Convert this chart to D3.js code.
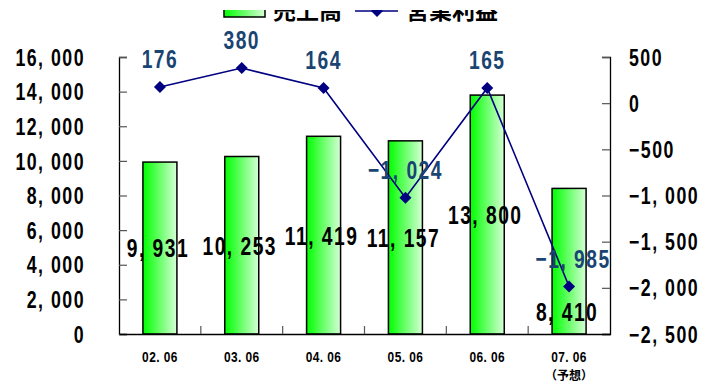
<!DOCTYPE html>
<html><head><meta charset="utf-8">
<script src="https://cdn.jsdelivr.net/npm/d3@7"></script>
<style>
html,body{margin:0;padding:0;background:#fff;}
svg{display:block;}
</style></head>
<body>
<svg id="chart" width="704" height="383"></svg>
<script>
const categories = ["02. 06","03. 06","04. 06","05. 06","06. 06","07. 06"];
const categoryNotes = ["","","","","","（予想）"];
const sales = [9931,10253,11419,11157,13800,8410];
const profit = [176,380,164,-1024,165,-1985];
const leftTicks = [0,2000,4000,6000,8000,10000,12000,14000,16000];
const rightTicks = [-2500,-2000,-1500,-1000,-500,0,500];
const legendLabels = ["売上高","営業利益"];

const NUM_FONT = "'Liberation Sans','Arimo',sans-serif";
const CJK_FONT = "'Noto Sans CJK JP',sans-serif";
const fmt = v => d3.format(",")(v).replace(",", ", ");

const svg = d3.select("#chart");
const m = {left:119, right:610, top:57, bottom:334};

const xb = d3.scaleBand().domain(categories).range([m.left, m.right]);
const yL = d3.scaleLinear().domain([0,16000]).range([m.bottom, m.top]);
const yR = d3.scaleLinear().domain([-2500,500]).range([m.bottom, m.top]);

function ctext(sel, data, fx, fy, opts){
  return sel.append("g").selectAll("text").data(data).join("text")
    .attr("transform",(d,i)=>`translate(${fx(d,i)},${fy(d,i)}) scale(${opts.sx},1)`)
    .attr("dy","0.36em")
    .attr("text-anchor",opts.anchor)
    .style("font-family",opts.font || NUM_FONT).style("font-weight","bold")
    .style("letter-spacing",(opts.ls||0)+"px")
    .style("font-size",opts.size+"px").attr("fill",opts.fill || "#000")
    .text(opts.text);
}

const defs = svg.append("defs");
const g = defs.append("linearGradient").attr("id","barGrad").attr("x1","0").attr("x2","1").attr("y1","0").attr("y2","0");
g.append("stop").attr("offset","0").attr("stop-color","#00ff00");
g.append("stop").attr("offset","1").attr("stop-color","#d6ffd6");
defs.append("clipPath").attr("id","legClip").append("rect").attr("x",0).attr("y",10).attr("width",704).attr("height",30);

// bars
svg.append("g").selectAll("rect").data(sales).join("rect")
  .attr("x",(d,i)=>xb(categories[i]) + xb.bandwidth()/2 - 17)
  .attr("width",34)
  .attr("y",d=>yL(d))
  .attr("height",d=>yL(0)-yL(d))
  .attr("fill","url(#barGrad)")
  .attr("stroke","#000").attr("stroke-width",1.5);

const axCol = "#000";
const la = svg.append("g").attr("transform",`translate(${m.left},0)`)
  .call(d3.axisLeft(yL).tickValues(leftTicks).tickSize(-8).tickFormat(""));
la.select(".domain").attr("stroke",axCol).attr("stroke-width",1.3);
la.selectAll(".tick line").attr("stroke","#555").attr("stroke-width",1.2);
ctext(svg, leftTicks, ()=>85, d=>yL(d), {sx:0.74, anchor:"end", size:24, ls:2, text:d=>fmt(d)});

const ra = svg.append("g").attr("transform",`translate(${m.right},0)`)
  .call(d3.axisRight(yR).tickValues(rightTicks).tickSize(-8).tickFormat(""));
ra.select(".domain").attr("stroke",axCol).attr("stroke-width",1.3);
ra.selectAll(".tick line").attr("stroke","#555").attr("stroke-width",1.2);
ctext(svg, rightTicks, ()=>629, d=>yR(d), {sx:0.74, anchor:"start", size:24, ls:2, text:d=>fmt(d)});

const ba = svg.append("g").attr("transform",`translate(0,${m.bottom})`)
  .call(d3.axisBottom(xb).tickSize(0).tickFormat(""));
ba.select(".domain").attr("stroke",axCol).attr("stroke-width",1.5);
ba.selectAll(".tick").remove();
svg.append("g").selectAll("line").data(categories.slice(1)).join("line")
  .attr("x1",d=>xb(d)).attr("x2",d=>xb(d))
  .attr("y1",m.bottom).attr("y2",m.bottom-8)
  .attr("stroke","#555").attr("stroke-width",1.2);
ctext(svg, categories, d=>xb(d)+xb.bandwidth()/2, ()=>357, {sx:0.85, anchor:"middle", size:14, ls:0.5, text:d=>d});
ctext(svg, categoryNotes, (d,i)=>xb(categories[i])+xb.bandwidth()/2, ()=>376, {sx:1, anchor:"middle", size:12, font:CJK_FONT, text:d=>d});

// line
const cx = i => xb(categories[i]) + xb.bandwidth()/2;
svg.append("path").datum(profit)
  .attr("d", d3.line().x((d,i)=>cx(i)).y(d=>yR(d)))
  .attr("fill","none").attr("stroke","#000080").attr("stroke-width",1.6);
svg.append("g").selectAll("path").data(profit).join("path")
  .attr("transform",(d,i)=>`translate(${cx(i)},${yR(d)})`)
  .attr("d","M0,-6L6,0L0,6L-6,0Z")
  .attr("fill","#000080");

// bar labels
ctext(svg, sales, (d,i)=>cx(i)-2,
  (d,i)=> i===sales.length-1 ? yL(0)-22 : (yL(d)+yL(0))/2,
  {sx:0.74, anchor:"middle", size:26, ls:2, text:d=>fmt(d)});

// line labels
ctext(svg, profit, (d,i)=>cx(i) + (i===profit.length-1 ? 4 : 0), d=>yR(d)-28,
  {sx:0.74, anchor:"middle", size:26, ls:2, fill:"#1A4471", text:d=>fmt(d)});

// legend (top clipped as in the reference)
const leg = svg.append("g").attr("clip-path","url(#legClip)");
leg.append("rect").attr("x",224).attr("y",5).attr("width",41).attr("height",12)
  .attr("fill","url(#barGrad)").attr("stroke","#000").attr("stroke-width",1.5);
leg.append("text").attr("x",273).attr("y",19)
  .style("font-family",CJK_FONT).style("font-weight","bold").style("font-size","23px").attr("fill","#000")
  .text(legendLabels[0]);
leg.append("line").attr("x1",355).attr("x2",398).attr("y1",11).attr("y2",11)
  .attr("stroke","#000080").attr("stroke-width",1.6);
leg.append("path").attr("transform","translate(377,11)").attr("d","M0,-6L6,0L0,6L-6,0Z").attr("fill","#000080");
leg.append("text").attr("x",406).attr("y",19)
  .style("font-family",CJK_FONT).style("font-weight","bold").style("font-size","23px").attr("fill","#000")
  .text(legendLabels[1]);
</script>
</body></html>
